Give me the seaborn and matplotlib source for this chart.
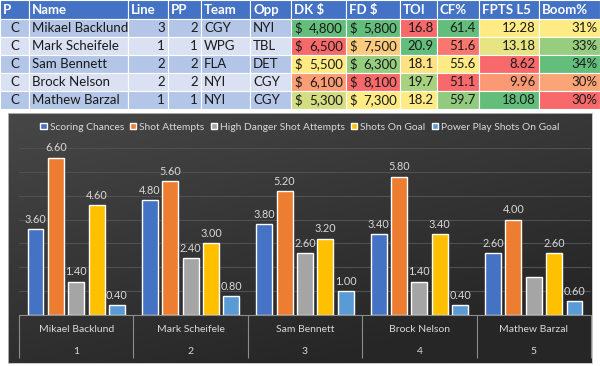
import matplotlib
matplotlib.use("Agg")
import matplotlib.pyplot as plt
import matplotlib.transforms as mtransforms
from matplotlib.patches import Rectangle, Patch
from matplotlib.colors import to_rgb
import numpy as np
import pandas as pd
import seaborn as sns

# table data
positions = ["C", "C", "C", "C", "C"]
names = ["Mikael Backlund", "Mark Scheifele", "Sam Bennett", "Brock Nelson", "Mathew Barzal"]
lines = [3, 1, 2, 2, 1]
pp_units = [2, 1, 2, 2, 1]
teams = ["CGY", "WPG", "FLA", "NYI", "NYI"]
opps = ["NYI", "TBL", "DET", "CGY", "CGY"]
dk_salary = [4800, 6500, 5500, 6100, 5300]
fd_salary = [5800, 7500, 6300, 8100, 7300]
toi = [16.8, 20.9, 18.1, 19.7, 18.2]
cf_pct = [61.4, 51.6, 55.6, 51.1, 59.7]
fpts_l5 = [12.28, 13.18, 8.62, 9.96, 18.08]
boom_pct = [0.31, 0.33, 0.34, 0.303, 0.297]
headers = ["P", "Name", "Line", "PP", "Team", "Opp", "DK $", "FD $", "TOI", "CF%", "FPTS L5", "Boom%"]

# chart data
metrics = ["Scoring Chances", "Shot Attempts", "High Danger Shot Attempts",
           "Shots On Goal", "Power Play Shots On Goal"]
scoring_chances = [3.6, 4.8, 3.8, 3.4, 2.6]
shot_attempts = [6.6, 5.6, 5.2, 5.8, 4.0]
high_danger = [1.4, 2.4, 2.6, 1.4, 1.6]
shots_on_goal = [4.6, 3.0, 3.2, 3.4, 2.6]
pp_shots = [0.4, 0.8, 1.0, 0.4, 0.6]
group_numbers = ["1", "2", "3", "4", "5"]

sns.set_theme(style="white")
plt.rcParams["font.family"] = ["Lato", "DejaVu Sans"]

W, H = 600, 366
fig = plt.figure(figsize=(6, 3.66), dpi=100)

# ---------- table ----------
GREEN, YELLOW, RED = to_rgb("#63BE7B"), to_rgb("#FFEB84"), to_rgb("#F8696B")


def scale_color(vals, low_good=False):
    # excel style 3-colour scale: min / median / max
    lo, mid, hi = min(vals), float(np.median(vals)), max(vals)
    c_lo, c_hi = (GREEN, RED) if low_good else (RED, GREEN)
    out = []
    for v in vals:
        if v <= mid:
            t = (v - lo) / (mid - lo) if mid > lo else 1
            a, b = c_lo, YELLOW
        else:
            t = (v - mid) / (hi - mid)
            a, b = YELLOW, c_hi
        out.append(tuple(a[k] + (b[k] - a[k]) * t for k in range(3)))
    return out


col_edges = [0, 29, 128, 168, 201, 250, 291, 346, 400, 437, 479, 539, 600]
row_edges = [0, 19, 37, 55, 73, 91, 109]

tab = fig.add_axes([0, 1 - 109 / H, 1, 109 / H])
tab.set_xlim(0, 600)
tab.set_ylim(109, 0)
tab.axis("off")

cond = {
    6: scale_color(dk_salary, low_good=True),
    7: scale_color(fd_salary, low_good=True),
    8: scale_color(toi),
    9: scale_color(cf_pct),
    10: scale_color(fpts_l5),
    11: scale_color(boom_pct),
}

fs = 9.5
for j, h in enumerate(headers):
    x0, x1 = col_edges[j], col_edges[j + 1]
    tab.add_patch(Rectangle((x0, 0), x1 - x0, 19, facecolor="#4472C4", edgecolor="white", lw=0.8))
    tab.text(x0 + 3, 10, h, color="white", fontsize=fs, fontweight="bold", va="center", ha="left")

for i in range(len(names)):
    y0, y1 = row_edges[i + 1], row_edges[i + 2]
    yc = (y0 + y1) / 2 + 0.5
    base = "#B4C6E7" if i % 2 == 0 else "#D9E1F2"
    for j in range(len(headers)):
        x0, x1 = col_edges[j], col_edges[j + 1]
        fc = cond[j][i] if j in cond else base
        tab.add_patch(Rectangle((x0, y0), x1 - x0, y1 - y0, facecolor=fc, edgecolor="white", lw=0.8))

    def put(j, s, align):
        x0, x1 = col_edges[j], col_edges[j + 1]
        x = {"left": x0 + 3, "right": x1 - 3, "center": (x0 + x1) / 2}[align]
        tab.text(x, yc, s, fontsize=fs, color="#1a1a1a", va="center", ha=align)

    put(0, positions[i], "center")
    put(1, names[i], "left")
    put(2, str(lines[i]), "right")
    put(3, str(pp_units[i]), "right")
    put(4, teams[i], "left")
    put(5, opps[i], "left")
    put(6, "$", "left")
    put(6, f"{dk_salary[i]:,}", "right")
    put(7, "$", "left")
    put(7, f"{fd_salary[i]:,}", "right")
    put(8, f"{toi[i]:.1f}", "right")
    put(9, f"{cf_pct[i]:.1f}", "right")
    put(10, f"{fpts_l5[i]:.2f}", "right")
    put(11, f"{boom_pct[i]:.0%}", "right")

# ---------- chart background ----------
bg = fig.add_axes([8 / W, 1 - 363 / H, 584 / W, 250 / H])
gx, gy = np.meshgrid(np.linspace(0, 1, 200), np.linspace(0, 1, 120))
shade = 1 - np.clip(0.45 * gx + 0.75 * gy, 0, 1)
c_dark, c_light = np.array(to_rgb("#262626")), np.array(to_rgb("#474747"))
img = c_dark + (c_light - c_dark) * shade[..., None]
bg.imshow(img, aspect="auto", extent=(0, 1, 1, 0))
bg.set_xticks([])
bg.set_yticks([])
for s in bg.spines.values():
    s.set_color("#bfbfbf")
    s.set_linewidth(0.6)

# ---------- bars ----------
ax = fig.add_axes([19 / W, 1 - 315 / H, 572 / W, 167 / H])
ax.patch.set_alpha(0)

df = pd.DataFrame({
    "player": names * 5,
    "metric": np.repeat(metrics, 5),
    "value": scoring_chances + shot_attempts + high_danger + shots_on_goal + pp_shots,
})
palette = ["#4472C4", "#ED7D31", "#A5A5A5", "#FFC000", "#5B9BD5"]
sns.barplot(data=df, x="player", y="value", hue="metric", order=names, hue_order=metrics,
            palette=palette, saturation=1, width=0.89, gap=0.22, legend=False, ax=ax)

ax.set_xlim(-0.5, 4.5)
ax.set_ylim(0, 7)
ax.set_yticks(range(0, 8))
ax.yaxis.grid(True, color="#505050", lw=0.8)
ax.set_axisbelow(True)
ax.tick_params(left=False, labelleft=False, bottom=False, labelbottom=False)
ax.set_xlabel("")
ax.set_ylabel("")
for k in ["top", "right", "left"]:
    ax.spines[k].set_visible(False)
ax.spines["bottom"].set_color("#8c8c8c")
ax.spines["bottom"].set_linewidth(0.8)

series_vals = [scoring_chances, shot_attempts, high_danger, shots_on_goal, pp_shots]
for m, cont in enumerate(ax.containers):
    labels = [f"{v:.2f}" for v in series_vals[m]]
    if m == 2:
        labels[4] = ""
    ax.bar_label(cont, labels=labels, padding=3, color="#D9D9D9", fontsize=7.8)

trans = mtransforms.blended_transform_factory(ax.transData, ax.transAxes)
ax.vlines(np.arange(-0.5, 5), -43 / 167, 0, transform=trans, colors="#8c8c8c", lw=0.8, clip_on=False)
for i, (nm, num) in enumerate(zip(names, group_numbers)):
    ax.text(i, -15 / 167, nm, transform=trans, ha="center", va="center", fontsize=7.5, color="#D9D9D9")
    ax.text(i, -37 / 167, num, transform=trans, ha="center", va="center", fontsize=7.5, color="#D9D9D9")

handles = [Patch(facecolor=c, label=l) for c, l in zip(palette, metrics)]
fig.legend(handles=handles, loc="center", bbox_to_anchor=(0.5, 1 - 127 / H), ncol=5, frameon=False,
           fontsize=7.4, labelcolor="#D9D9D9", handlelength=0.6, handleheight=0.6,
           handletextpad=0.3, columnspacing=0.6, borderaxespad=0)

fig.savefig("out.png", dpi=100)
